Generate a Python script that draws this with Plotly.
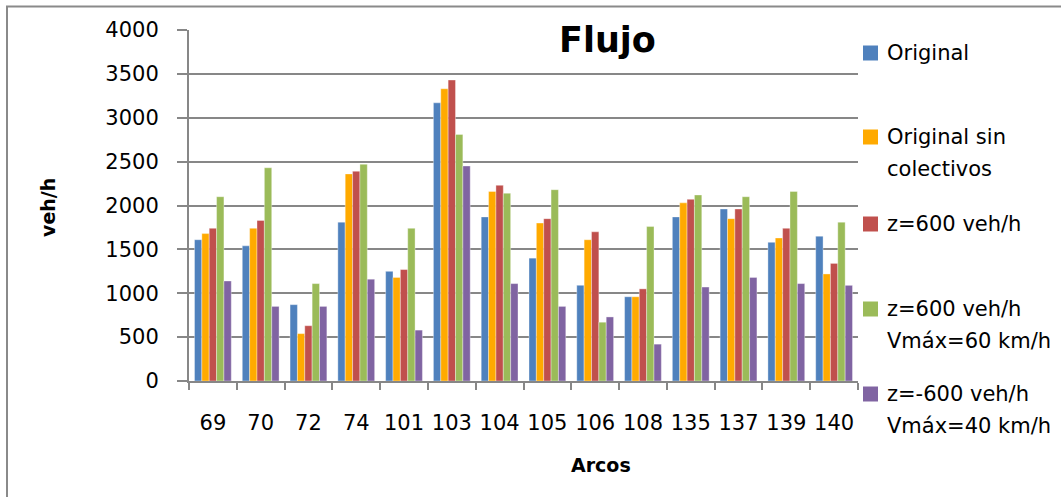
import plotly.graph_objects as go

# Arcos (links) and the traffic flow on each one, in veh/h
arcos = ["69", "70", "72", "74", "101", "103", "104", "105", "106", "108", "135", "137", "139", "140"]

original = [1610, 1540, 870, 1810, 1250, 3170, 1870, 1400, 1090, 960, 1870, 1960, 1580, 1650]
original_sin_colectivos = [1680, 1740, 540, 2360, 1180, 3330, 2160, 1800, 1610, 960, 2030, 1850, 1630, 1220]
z600 = [1740, 1830, 630, 2390, 1270, 3430, 2230, 1850, 1700, 1050, 2070, 1960, 1740, 1340]
z600_v60 = [2100, 2430, 1110, 2470, 1740, 2810, 2140, 2180, 670, 1760, 2120, 2100, 2160, 1810]
zm600_v40 = [1140, 850, 850, 1160, 580, 2450, 1110, 850, 730, 420, 1070, 1180, 1110, 1090]

series_names = [
    "Original",
    "Original sin<br>colectivos",
    "z=600 veh/h",
    "z=600 veh/h<br>Vmáx=60 km/h",
    "z=-600 veh/h<br>Vmáx=40 km/h",
]
series_values = [original, original_sin_colectivos, z600, z600_v60, zm600_v40]
series_colors = ["#4F81BD", "#FFAA00", "#C0504D", "#9BBB59", "#8064A2"]

y_ticks = [0, 500, 1000, 1500, 2000, 2500, 3000, 3500, 4000]

FONT = "DejaVu Sans"
GRAY = "#878787"

W, H = 1061, 497
ML, MR, MT, MB = 189, 203, 30, 116
PW, PH = W - ML - MR, H - MT - MB


def px_x(x):
    return (x - ML) / PW


def px_y(y):
    return (H - MB - y) / PH


fig = go.Figure()
for name, vals, col in zip(series_names, series_values, series_colors):
    fig.add_trace(go.Bar(
        x=arcos, y=vals, name=name.replace("<br>", " "),
        marker=dict(color=col, line=dict(color="rgba(255,255,255,0.45)", width=0.8)),
        showlegend=False,
    ))

# Legend drawn beside the plot: coloured square plus one or two text lines
legend_rows = [53, 137, 224, 309, 394]
annotations = []
shapes = []
for name, col, yc in zip(series_names, series_colors, legend_rows):
    shapes.append(dict(
        type="rect", xref="paper", yref="paper",
        x0=px_x(863), x1=px_x(878), y0=px_y(yc + 7.5), y1=px_y(yc - 7.5),
        fillcolor=col, line=dict(width=0),
    ))
    for i, line in enumerate(name.split("<br>")):
        annotations.append(dict(
            text=line, xref="paper", yref="paper",
            x=px_x(885), y=px_y(yc + 32 * i),
            xanchor="left", yanchor="middle", showarrow=False,
            font=dict(family=FONT, size=21, color="#000000"),
        ))

# Chart title and axis titles
annotations.append(dict(
    text="<b>Flujo</b>", xref="paper", yref="paper",
    x=px_x(607), y=px_y(40), xanchor="center", yanchor="middle", showarrow=False,
    font=dict(family=FONT, size=35, color="#000000"),
))
annotations.append(dict(
    text="<b>Arcos</b>", xref="paper", yref="paper",
    x=px_x(601), y=px_y(465), xanchor="center", yanchor="middle", showarrow=False,
    font=dict(family=FONT, size=19, color="#000000"),
))
annotations.append(dict(
    text="<b>veh/h</b>", xref="paper", yref="paper",
    x=px_x(48), y=px_y(208), xanchor="center", yanchor="middle", showarrow=False,
    textangle=-90,
    font=dict(family=FONT, size=19, color="#000000"),
))

# Outer frame of the chart area
shapes.append(dict(
    type="rect", xref="paper", yref="paper",
    x0=px_x(7), x1=px_x(1075), y0=px_y(6.5), y1=px_y(510),
    line=dict(color="#8A8A8A", width=2), fillcolor="rgba(0,0,0,0)", layer="below",
))

fig.update_layout(
    width=W, height=H,
    margin=dict(l=ML, r=MR, t=MT, b=MB),
    paper_bgcolor="white", plot_bgcolor="white",
    barmode="group", bargap=0.23, bargroupgap=0,
    font=dict(family=FONT, size=21, color="#000000"),
    annotations=annotations, shapes=shapes,
    showlegend=False,
)
fig.update_xaxes(
    type="category", tickson="boundaries", ticks="outside", ticklen=7,
    tickwidth=2, tickcolor=GRAY, showline=True, linecolor=GRAY, linewidth=2,
    showgrid=False, ticklabelstandoff=22, tickangle=0,
    tickfont=dict(family=FONT, size=21, color="#000000"),
)
fig.update_yaxes(
    range=[0, 4000], tickvals=y_ticks, ticks="outside", ticklen=10,
    tickwidth=2, tickcolor=GRAY, showline=True, linecolor=GRAY, linewidth=2,
    showgrid=True, gridcolor=GRAY, gridwidth=2, zeroline=False,
    ticklabelstandoff=14,
    tickfont=dict(family=FONT, size=21, color="#000000"),
)

fig.write_html("out.html")
